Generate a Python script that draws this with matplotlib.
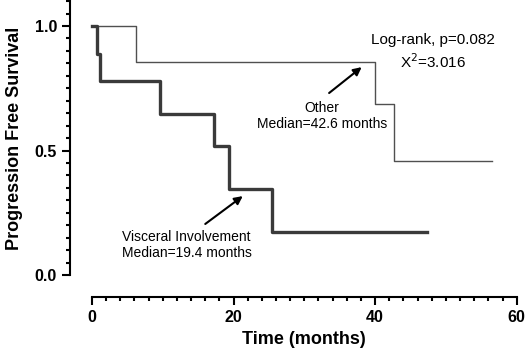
import numpy as np
import matplotlib.pyplot as plt

plt.rcParams['font.family'] = ['Liberation Sans', 'DejaVu Sans']

# Kaplan-Meier step data
t_other = [0, 6.2, 40.0, 42.6, 56.5]
s_other = [1.0, 0.857, 0.686, 0.457, 0.457]
t_visc = [0, 0.7, 1.1, 9.6, 17.2, 19.4, 25.4, 47.3]
s_visc = [1.0, 0.889, 0.778, 0.648, 0.519, 0.346, 0.173, 0.173]

fig = plt.figure(figsize=(5.27, 3.58), dpi=100)
ax = fig.add_axes([0.1746, 0.2318, 0.8058, 0.765])

ax.step(t_other, s_other, where='post', color='#505050', lw=1.0, clip_on=False)
ax.step(t_visc, s_visc, where='post', color='#3a3a3a', lw=2.4, clip_on=False)

ax.set_xlim(0, 60)
ax.set_ylim(0, 1.1)

for side in ['top', 'right']:
    ax.spines[side].set_visible(False)
for side in ['left', 'bottom']:
    ax.spines[side].set_position(('outward', 15.8))
    ax.spines[side].set_linewidth(1.5)
ax.spines['bottom'].set_bounds(0, 60)
ax.spines['left'].set_bounds(0, 1.1)

ax.set_xticks([0, 20, 40, 60])
ax.set_xticks(np.arange(0, 61, 2), minor=True)
ax.set_yticks([0.0, 0.5, 1.0])
ax.set_yticklabels(['0.0', '0.5', '1.0'])
ax.set_yticks(np.arange(0, 1.101, 0.05), minor=True)
ax.tick_params(which='major', length=6, width=1.5, labelsize=11.5)
ax.tick_params(which='minor', length=3, width=1.5)
for lab in ax.get_xticklabels() + ax.get_yticklabels():
    lab.set_fontweight('bold')

ax.set_xlabel('Time (months)', fontsize=13, fontweight='bold', labelpad=4)
ax.set_ylabel('Progression Free Survival', fontsize=13, fontweight='bold', labelpad=8)

ax.text(48.2, 0.944, 'Log-rank, p=0.082', ha='center', va='center', fontsize=11)
ax.text(48.2, 0.855, 'X$^2$=3.016', ha='center', va='center', fontsize=11)

arrow = dict(arrowstyle='-|>', color='black', lw=1.5, shrinkA=0, shrinkB=0, mutation_scale=12)
ax.annotate('', xy=(38.1, 0.835), xytext=(33.5, 0.731), arrowprops=arrow)
ax.annotate('', xy=(21.3, 0.317), xytext=(16.0, 0.205), arrowprops=arrow)

ax.text(32.5, 0.64, 'Other\nMedian=42.6 months', ha='center', va='center',
        fontsize=10, multialignment='center')
ax.text(4.3, 0.122, 'Visceral Involvement\nMedian=19.4 months', ha='left', va='center',
        fontsize=10)

fig.savefig('out.png', dpi=100)
